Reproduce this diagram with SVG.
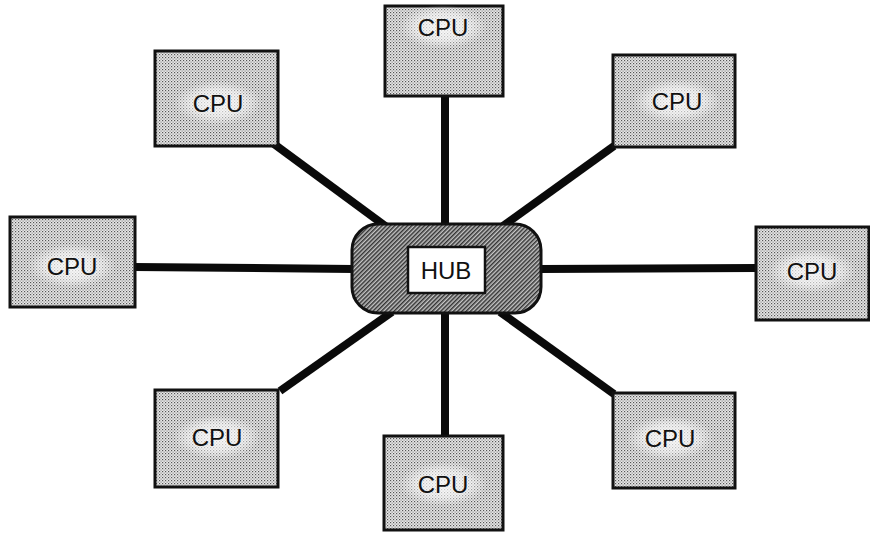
<svg xmlns="http://www.w3.org/2000/svg" width="870" height="533" viewBox="0 0 870 533">
  <defs>
    <!-- fine stipple used for the CPU boxes -->
    <pattern id="stipple" width="3" height="3" patternUnits="userSpaceOnUse">
      <rect width="3" height="3" fill="#e8e8e8"/>
      <rect x="0" y="0" width="1.2" height="1.2" fill="#555"/>
      <rect x="1.5" y="1.5" width="1.2" height="1.2" fill="#888"/>
    </pattern>
    <!-- darker diagonal hatch used for the hub -->
    <pattern id="hatch" width="3" height="3" patternUnits="userSpaceOnUse" patternTransform="rotate(45)">
      <rect width="3" height="3" fill="#c4c4c4"/>
      <rect x="0" y="0" width="1.5" height="3" fill="#333"/>
    </pattern>
    <!-- soft light patch behind each CPU label -->
    <radialGradient id="glow">
      <stop offset="0" stop-color="#fff" stop-opacity="0.8"/>
      <stop offset="0.6" stop-color="#fff" stop-opacity="0.55"/>
      <stop offset="1" stop-color="#fff" stop-opacity="0"/>
    </radialGradient>
  </defs>
  <style>
    .cpu { fill: url(#stipple); stroke: #111; stroke-width: 3; }
    .glow { fill: url(#glow); }
    .label { font-family: "Liberation Sans", Arial, sans-serif; font-size: 24px; fill: #111; text-anchor: middle; }
    .wire { stroke: #0a0a0a; stroke-width: 8; stroke-linecap: butt; fill: none; }
  </style>

  <rect width="870" height="533" fill="#fff"/>

  <g id="connectors">
    <line class="wire" x1="445" y1="96" x2="445" y2="226"/>
    <line class="wire" x1="445" y1="310" x2="445" y2="436"/>
    <line class="wire" x1="134" y1="267" x2="354" y2="269"/>
    <line class="wire" x1="540" y1="269" x2="756" y2="268"/>
    <line class="wire" x1="274" y1="144" x2="388" y2="228"/>
    <line class="wire" x1="614" y1="146" x2="503" y2="226"/>
    <line class="wire" x1="280" y1="391" x2="392" y2="312"/>
    <line class="wire" x1="500" y1="312" x2="614" y2="394"/>
  </g>

  <g id="cpu-top">
    <rect class="cpu" x="385" y="6" width="118" height="90"/>
    <ellipse class="glow" cx="443" cy="27" rx="44" ry="22"/>
    <text class="label" x="443" y="36">CPU</text>
  </g>
  <g id="cpu-top-left">
    <rect class="cpu" x="155" y="51" width="123" height="95"/>
    <ellipse class="glow" cx="218" cy="103" rx="44" ry="22"/>
    <text class="label" x="218" y="112">CPU</text>
  </g>
  <g id="cpu-top-right">
    <rect class="cpu" x="613" y="55" width="122" height="92"/>
    <ellipse class="glow" cx="677" cy="101" rx="44" ry="22"/>
    <text class="label" x="677" y="110">CPU</text>
  </g>
  <g id="cpu-left">
    <rect class="cpu" x="10" y="217" width="125" height="90"/>
    <ellipse class="glow" cx="72" cy="266" rx="44" ry="22"/>
    <text class="label" x="72" y="275">CPU</text>
  </g>
  <g id="cpu-right">
    <rect class="cpu" x="756" y="227" width="113" height="93"/>
    <ellipse class="glow" cx="812" cy="271" rx="44" ry="22"/>
    <text class="label" x="812" y="280">CPU</text>
  </g>
  <g id="cpu-bottom-left">
    <rect class="cpu" x="155" y="390" width="123" height="97"/>
    <ellipse class="glow" cx="217" cy="437" rx="44" ry="22"/>
    <text class="label" x="217" y="446">CPU</text>
  </g>
  <g id="cpu-bottom">
    <rect class="cpu" x="384" y="436" width="119" height="94"/>
    <ellipse class="glow" cx="443" cy="484" rx="44" ry="22"/>
    <text class="label" x="443" y="493">CPU</text>
  </g>
  <g id="cpu-bottom-right">
    <rect class="cpu" x="613" y="393" width="122" height="95"/>
    <ellipse class="glow" cx="670" cy="438" rx="44" ry="22"/>
    <text class="label" x="670" y="447">CPU</text>
  </g>

  <g id="hub">
    <rect x="352" y="224" width="189" height="89" rx="26" ry="26" fill="url(#hatch)" stroke="#111" stroke-width="3"/>
    <rect x="408" y="247" width="77" height="46" fill="#fff" stroke="#111" stroke-width="2.5"/>
    <text class="label" x="446" y="279">HUB</text>
  </g>
</svg>
